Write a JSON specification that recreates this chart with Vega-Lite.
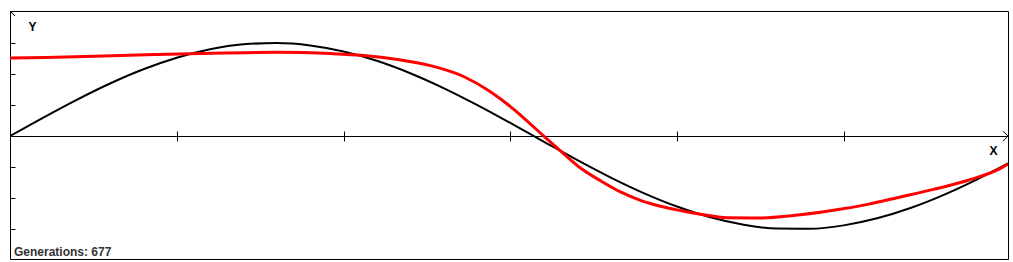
{
  "$schema": "https://vega.github.io/schema/vega-lite/v6.json",
  "width": 998,
  "height": 248,
  "autosize": {"type": "none"},
  "padding": {"left": 10, "top": 11, "right": 5, "bottom": 3},
  "background": "white",
  "config": {
    "view": {"stroke": "black", "strokeWidth": 1},
    "axis": {"domainColor": "black", "tickColor": "black", "domainWidth": 1, "tickWidth": 1, "labels": false, "grid": false, "title": null, "tickSize": 5}
  },
  "datasets": {
    "target": [
      {"x": 0, "y": 0}, {"x": 0.2, "y": 0.596}, {"x": 0.4, "y": 1.168}, {"x": 0.6, "y": 1.694},
      {"x": 0.8, "y": 2.152}, {"x": 1.0, "y": 2.524}, {"x": 1.2, "y": 2.796}, {"x": 1.4, "y": 2.956},
      {"x": 1.6, "y": 2.999}, {"x": 1.8, "y": 2.922}, {"x": 2.0, "y": 2.728}, {"x": 2.2, "y": 2.426},
      {"x": 2.4, "y": 2.026}, {"x": 2.6, "y": 1.547}, {"x": 2.8, "y": 1.005}, {"x": 3.0, "y": 0.423},
      {"x": 3.2, "y": -0.175}, {"x": 3.4, "y": -0.767}, {"x": 3.6, "y": -1.328}, {"x": 3.8, "y": -1.836},
      {"x": 4.0, "y": -2.27}, {"x": 4.2, "y": -2.615}, {"x": 4.4, "y": -2.855}, {"x": 4.6, "y": -2.981},
      {"x": 4.8, "y": -2.988}, {"x": 5.0, "y": -2.877}, {"x": 5.2, "y": -2.65}, {"x": 5.4, "y": -2.318},
      {"x": 5.6, "y": -1.894}, {"x": 5.8, "y": -1.394}, {"x": 5.985, "y": -0.881}
    ],
    "evolved": [
      {"x": 0, "y": 2.512}, {"x": 0.219, "y": 2.535}, {"x": 0.447, "y": 2.567}, {"x": 0.663, "y": 2.599},
      {"x": 0.885, "y": 2.631}, {"x": 1.142, "y": 2.663}, {"x": 1.604, "y": 2.7}, {"x": 1.922, "y": 2.66},
      {"x": 2.12, "y": 2.599}, {"x": 2.324, "y": 2.47}, {"x": 2.522, "y": 2.27}, {"x": 2.72, "y": 1.92},
      {"x": 2.881, "y": 1.43}, {"x": 3.001, "y": 0.95}, {"x": 3.061, "y": 0.677}, {"x": 3.201, "y": 0},
      {"x": 3.301, "y": -0.474}, {"x": 3.421, "y": -1.03}, {"x": 3.541, "y": -1.44}, {"x": 3.661, "y": -1.8},
      {"x": 3.781, "y": -2.07}, {"x": 3.901, "y": -2.26}, {"x": 4.021, "y": -2.4}, {"x": 4.141, "y": -2.52},
      {"x": 4.303, "y": -2.63}, {"x": 4.501, "y": -2.64}, {"x": 4.699, "y": -2.56}, {"x": 4.938, "y": -2.39},
      {"x": 5.142, "y": -2.2}, {"x": 5.34, "y": -1.96}, {"x": 5.538, "y": -1.717}, {"x": 5.742, "y": -1.43},
      {"x": 5.94, "y": -1.04}, {"x": 5.985, "y": -0.902}
    ]
  },
  "layer": [
    {
      "data": {"name": "target"},
      "mark": {"type": "line", "color": "black", "strokeWidth": 2, "interpolate": "monotone", "clip": true},
      "encoding": {
        "x": {"field": "x", "type": "quantitative", "scale": {"domain": [0, 5.985], "nice": false, "zero": false},
              "axis": {"orient": "bottom", "offset": -123, "values": [1, 2, 3, 4, 5], "domain": true}},
        "y": {"field": "y", "type": "quantitative", "scale": {"domain": [-3.96, 4.03], "nice": false, "zero": false},
              "axis": {"orient": "right", "offset": -998, "values": [-3, -2, -1, 1, 2, 3], "domain": false}}
      }
    },
    {
      "data": {"name": "evolved"},
      "mark": {"type": "line", "color": "#ff0000", "strokeWidth": 3, "interpolate": "monotone", "clip": true},
      "encoding": {
        "x": {"field": "x", "type": "quantitative", "scale": {"domain": [0, 5.985], "nice": false, "zero": false},
              "axis": {"orient": "top", "offset": -125, "values": [1, 2, 3, 4, 5], "domain": false}},
        "y": {"field": "y", "type": "quantitative", "scale": {"domain": [-3.96, 4.03], "nice": false, "zero": false}, "axis": null}
      }
    },
    {
      "data": {"values": [{"x": 0.135, "y": 3.51, "t": "Y"}, {"x": 5.898, "y": -0.483, "t": "X"}]},
      "mark": {"type": "text", "font": "Liberation Sans", "fontSize": 12, "fontWeight": "bold", "color": "black", "align": "center", "baseline": "middle"},
      "encoding": {
        "x": {"field": "x", "type": "quantitative", "scale": {"domain": [0, 5.985], "nice": false, "zero": false}, "axis": null},
        "y": {"field": "y", "type": "quantitative", "scale": {"domain": [-3.96, 4.03], "nice": false, "zero": false}, "axis": null},
        "text": {"field": "t"}
      }
    },
    {
      "data": {"values": [{"x": 0.024, "y": -3.866, "t": "Generations: 677"}]},
      "mark": {"type": "text", "font": "Liberation Sans", "fontSize": 12, "fontWeight": "bold", "color": "#333333", "align": "left", "baseline": "alphabetic"},
      "encoding": {
        "x": {"field": "x", "type": "quantitative", "scale": {"domain": [0, 5.985], "nice": false, "zero": false}, "axis": null},
        "y": {"field": "y", "type": "quantitative", "scale": {"domain": [-3.96, 4.03], "nice": false, "zero": false}, "axis": null},
        "text": {"field": "t"}
      }
    },
    {
      "data": {"values": [{"x": 5.985, "y": 0}]},
      "mark": {"type": "point", "shape": "M-1,-1L0,0L-1,1", "size": 100, "filled": false, "stroke": "black", "strokeWidth": 1, "opacity": 1},
      "encoding": {
        "x": {"field": "x", "type": "quantitative", "scale": {"domain": [0, 5.985], "nice": false, "zero": false}, "axis": null},
        "y": {"field": "y", "type": "quantitative", "scale": {"domain": [-3.96, 4.03], "nice": false, "zero": false}, "axis": null}
      }
    },
    {
      "data": {"values": [{"x": 0, "y": 4.03}]},
      "mark": {"type": "point", "shape": "M0,0L1,1", "size": 100, "filled": false, "stroke": "black", "strokeWidth": 1, "opacity": 1},
      "encoding": {
        "x": {"field": "x", "type": "quantitative", "scale": {"domain": [0, 5.985], "nice": false, "zero": false}, "axis": null},
        "y": {"field": "y", "type": "quantitative", "scale": {"domain": [-3.96, 4.03], "nice": false, "zero": false}, "axis": null}
      }
    }
  ],
  "resolve": {"axis": {"x": "independent", "y": "independent"}}
}
